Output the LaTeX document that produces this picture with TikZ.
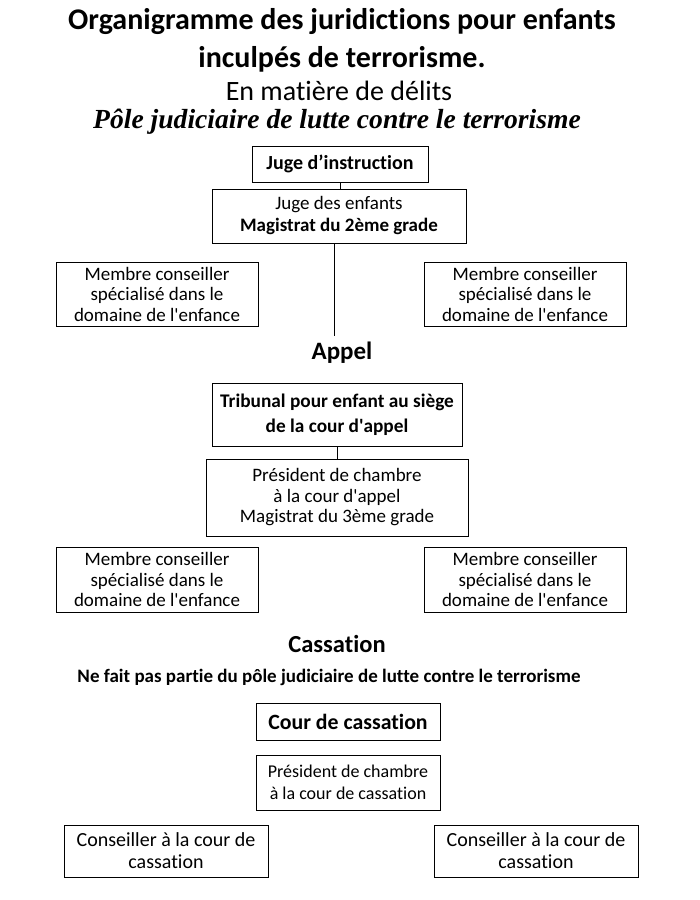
\documentclass[tikz,border=0pt]{standalone}
\usepackage{fontspec}
\setmainfont{Carlito}[Ligatures={TeX,NoCommon}]
\newfontfamily\serifit{Liberation Serif}
\tikzset{
  bx/.style={draw, line width=0.7pt, inner sep=0pt, align=center},
  txt/.style={inner sep=0pt, align=center, anchor=base},
  link/.style={draw, line width=0.7pt}
}
\newcommand{\fs}[2]{\fontsize{#1}{#2}\selectfont}
\begin{document}
\begin{tikzpicture}[x=1pt,y=-1pt]
\useasboundingbox (0,0) rectangle (700,900);
\fill[white] (0,0) rectangle (700,900);
% titles
\node[txt, font=\fs{30}{34}\bfseries] (t1) at (342,29) {Organigramme des juridictions pour enfants};
\node[txt, font=\fs{30}{34}\bfseries] (t2) at (342,67) {inculpés de terrorisme.};
\node[txt, font=\fs{28}{32}] (t3) at (339,100) {En matière de délits};
\node[txt, font=\serifit\fs{27.6}{32}\bfseries\itshape] (t4) at (337,128) {Pôle judiciaire de lutte contre le terrorisme};
% first level
\node[bx, minimum width=176, minimum height=36, font=\fs{20}{24}\bfseries] (ji) at (340,164) {Juge d’instruction};
\node[bx, minimum width=254, minimum height=54, font=\fs{19}{22}] (je) at (339,216) {Juge des enfants\\{\bfseries Magistrat du 2ème grade}};
\node[bx, minimum width=202, minimum height=64, font=\fs{19}{20.5}] (m1) at (157,294) {Membre conseiller\\spécialisé dans le\\domaine de l\textquotesingle enfance};
\node[bx, minimum width=202, minimum height=64, font=\fs{19}{20.5}] (m2) at (525,294) {Membre conseiller\\spécialisé dans le\\domaine de l\textquotesingle enfance};
\coordinate (e1) at (334,336);
\draw[link] (ji.south) -- (ji.south |- je.north);
\draw[link] (e1 |- je.south) -- (e1);
% appel
\node[txt, font=\fs{25}{28}\bfseries] (appel) at (342,359) {Appel};
\node[bx, minimum width=250, minimum height=63, font=\fs{19.3}{25}\bfseries] (trib) at (337,414.5) {Tribunal pour enfant au siège\\de la cour d\textquotesingle appel};
\node[bx, minimum width=262, minimum height=77, font=\fs{19}{20.5}] (pres) at (337,497.5) {Président de chambre\\à la cour d\textquotesingle appel\\Magistrat du 3ème grade};
\draw[link] (trib.south) -- (pres.north);
\node[bx, minimum width=202, minimum height=65, font=\fs{19}{20.5}] (m3) at (157,579.5) {Membre conseiller\\spécialisé dans le\\domaine de l\textquotesingle enfance};
\node[bx, minimum width=202, minimum height=65, font=\fs{19}{20.5}] (m4) at (525,579.5) {Membre conseiller\\spécialisé dans le\\domaine de l\textquotesingle enfance};
% cassation
\node[txt, font=\fs{24.5}{28}\bfseries] (cass) at (337,652) {Cassation};
\node[txt, font=\fs{19}{22}\bfseries] (nf) at (329,682) {Ne fait pas partie du pôle judiciaire de lutte contre le terrorisme};
\node[bx, minimum width=184, minimum height=37, font=\fs{21.8}{26}\bfseries] (cc) at (348,721.5) {Cour de cassation};
\node[bx, minimum width=184, minimum height=55, font=\fs{18}{22}] (pc) at (348,782.5) {Président de chambre\\à la cour de cassation};
\node[bx, minimum width=204, minimum height=52, font=\fs{20}{22}] (c1) at (166,851) {Conseiller à la cour de\\cassation};
\node[bx, minimum width=204, minimum height=52, font=\fs{20}{22}] (c2) at (536,851) {Conseiller à la cour de\\cassation};
\end{tikzpicture}
\end{document}
